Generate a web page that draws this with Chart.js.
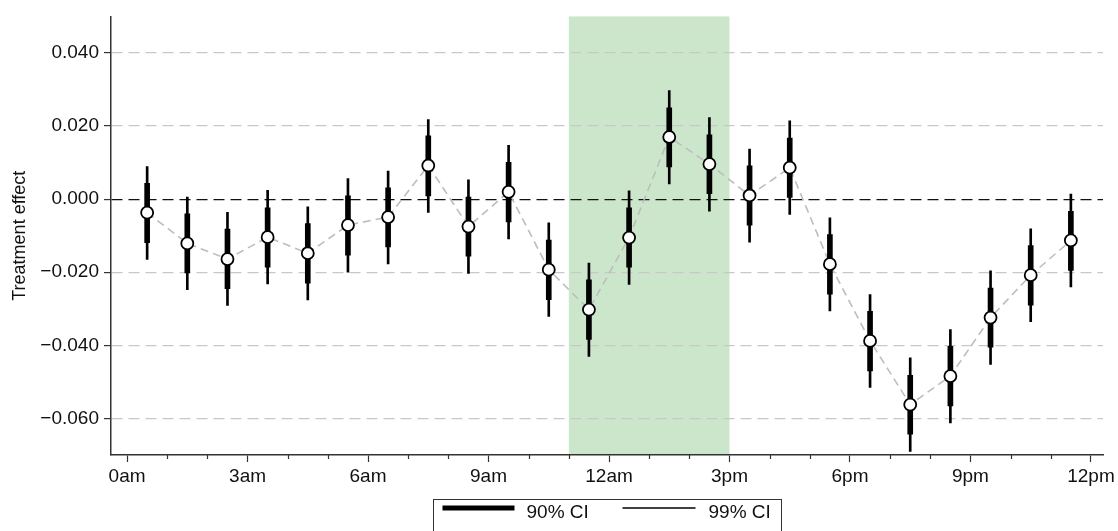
<!DOCTYPE html>
<html>
<head>
<meta charset="utf-8">
<title>Treatment effect by hour</title>
<script src="https://cdn.jsdelivr.net/npm/chart.js@4.4.1/dist/chart.umd.min.js"></script>
<style>
  html, body { margin: 0; padding: 0; background: #fff; }
  canvas { display: block; }
</style>
</head>
<body>
<canvas id="effectChart" width="1118" height="531"></canvas>
<script>
// hourly estimates, plotted at the middle of each hour
const hours = [0.5, 1.5, 2.5, 3.5, 4.5, 5.5, 6.5, 7.5, 8.5, 9.5, 10.5, 11.5,
               12.5, 13.5, 14.5, 15.5, 16.5, 17.5, 18.5, 19.5, 20.5, 21.5, 22.5, 23.5];

const estimate = [-0.0037, -0.0121, -0.0164, -0.0104, -0.0148, -0.0071, -0.0049, 0.0092,
                  -0.0075, 0.0020, -0.0193, -0.0302, -0.0105, 0.0170, 0.0096, 0.0010,
                  0.0086, -0.0178, -0.0388, -0.0562, -0.0484, -0.0324, -0.0208, -0.0113];

const lo90 = [-0.0119, -0.0202, -0.0245, -0.0186, -0.0230, -0.0153, -0.0131, 0.0009,
              -0.0156, -0.0062, -0.0275, -0.0384, -0.0186, 0.0088, 0.0015, -0.0071,
              0.0005, -0.0260, -0.0470, -0.0643, -0.0566, -0.0405, -0.0290, -0.0195];
const hi90 = [0.0043, -0.0040, -0.0082, -0.0024, -0.0067, 0.0009, 0.0031, 0.0173,
              0.0006, 0.0101, -0.0112, -0.0221, -0.0024, 0.0250, 0.0176, 0.0091,
              0.0167, -0.0097, -0.0307, -0.0482, -0.0403, -0.0243, -0.0127, -0.0033];

const lo99 = [-0.0165, -0.0248, -0.0291, -0.0232, -0.0276, -0.0200, -0.0177, -0.0036,
              -0.0203, -0.0109, -0.0321, -0.0430, -0.0233, 0.0042, -0.0033, -0.0118,
              -0.0042, -0.0306, -0.0515, -0.0690, -0.0612, -0.0452, -0.0335, -0.0240];
const hi99 = [0.0089, 0.0006, -0.0036, 0.0024, -0.0021, 0.0056, 0.0077, 0.0218,
              0.0053, 0.0147, -0.0065, -0.0175, 0.0023, 0.0297, 0.0223, 0.0137,
              0.0214, -0.0051, -0.0261, -0.0434, -0.0357, -0.0196, -0.0081, 0.0014];

const hourTicks = [0, 3, 6, 9, 12, 15, 18, 21, 24];
const hourLabels = ['0am', '3am', '6am', '9am', '12am', '3pm', '6pm', '9pm', '12pm'];
const effectTicks = [-0.06, -0.04, -0.02, 0, 0.02, 0.04];

// highlighted window (hours)
const shadeFrom = 11;
const shadeTo = 15;

const FONT = '"Liberation Sans", Arial, Helvetica, sans-serif';

const points = hours.map((h, i) => ({ x: h, y: estimate[i] }));
const band90 = hours.map((h, i) => ({ x: h, y: [lo90[i], hi90[i]] }));
const band99 = hours.map((h, i) => ({ x: h, y: [lo99[i], hi99[i]] }));

const fmtEffect = (v) => {
    if (Math.abs(v) < 1e-9) return '0.000';
    return (v < 0 ? '\u2212' : '') + Math.abs(v).toFixed(3);
};

// green window behind the grid
const shadePlugin = {
    id: 'shade',
    beforeDraw(chart) {
        const { ctx, chartArea, scales } = chart;
        const x0 = scales.x.getPixelForValue(shadeFrom);
        const x1 = scales.x.getPixelForValue(shadeTo);
        ctx.save();
        ctx.fillStyle = 'rgba(0, 128, 0, 0.2)';
        ctx.fillRect(x0, chartArea.top, x1 - x0, chartArea.bottom - chartArea.top);
        ctx.restore();
    }
};

// small ticks for every hour between the labelled ones
const minorTicksPlugin = {
    id: 'minorTicks',
    afterDraw(chart) {
        const { ctx, chartArea, scales } = chart;
        ctx.save();
        ctx.strokeStyle = '#333';
        ctx.lineWidth = 1.2;
        ctx.beginPath();
        for (let h = 0; h <= 24; h++) {
            if (h % 3 === 0) continue;
            const x = Math.round(scales.x.getPixelForValue(h)) + 0.5;
            ctx.moveTo(x, chartArea.bottom);
            ctx.lineTo(x, chartArea.bottom + 4);
        }
        ctx.stroke();
        ctx.restore();
    }
};

// boxed legend under the axis
const ciLegendPlugin = {
    id: 'ciLegend',
    afterDraw(chart) {
        const { ctx, chartArea } = chart;
        const cx = (chartArea.left + chartArea.right) / 2;
        const left = Math.round(cx - 174) + 0.5;
        const top = 499.5;
        const lineY = 508;
        ctx.save();
        ctx.strokeStyle = '#333';
        ctx.lineWidth = 1;
        ctx.strokeRect(left, top, 348, 60);

        ctx.strokeStyle = '#000';
        ctx.lineWidth = 5;
        ctx.beginPath();
        ctx.moveTo(left + 9, lineY);
        ctx.lineTo(left + 81, lineY);
        ctx.stroke();

        ctx.lineWidth = 1.5;
        ctx.beginPath();
        ctx.moveTo(left + 189, lineY);
        ctx.lineTo(left + 262, lineY);
        ctx.stroke();

        ctx.fillStyle = '#111';
        ctx.font = '19px ' + FONT;
        ctx.textBaseline = 'middle';
        ctx.fillText('90% CI', left + 93, lineY + 5);
        ctx.fillText('99% CI', left + 275, lineY + 5);
        ctx.restore();
    }
};

const ctx = document.getElementById('effectChart').getContext('2d');

new Chart(ctx, {
    type: 'bar',
    data: {
        datasets: [
            {
                type: 'line',
                data: points,
                borderColor: '#bdbdbd',
                borderWidth: 1.6,
                borderDash: [8, 5],
                pointRadius: 0,
                tension: 0,
                fill: false,
                order: 3
            },
            {
                type: 'bar',
                data: band99,
                backgroundColor: '#000',
                barThickness: 2,
                grouped: false,
                order: 2
            },
            {
                type: 'bar',
                data: band90,
                backgroundColor: '#000',
                barThickness: 5,
                grouped: false,
                order: 1
            },
            {
                type: 'line',
                data: points,
                showLine: false,
                pointRadius: 6,
                pointBackgroundColor: '#fff',
                pointBorderColor: '#000',
                pointBorderWidth: 1.8,
                order: 0
            }
        ]
    },
    options: {
        responsive: false,
        animation: false,
        devicePixelRatio: 1,
        layout: { padding: { left: 0, right: 15, top: 15, bottom: 36 } },
        plugins: {
            legend: { display: false },
            tooltip: { enabled: false }
        },
        scales: {
            x: {
                type: 'linear',
                min: -0.4,
                max: 24.3,
                offset: false,
                afterBuildTicks: (axis) => { axis.ticks = hourTicks.map(v => ({ value: v })); },
                afterFit: (axis) => { axis.height = 40; },
                ticks: {
                    autoSkip: false,
                    maxRotation: 0,
                    padding: 3,
                    color: '#111',
                    font: { family: FONT, size: 19 },
                    callback: (v, i) => hourLabels[i]
                },
                grid: {
                    offset: false,
                    drawOnChartArea: false,
                    tickLength: 7,
                    tickColor: '#333',
                    tickWidth: 1.2
                },
                border: { color: '#333', width: 1.5 }
            },
            y: {
                min: -0.07,
                max: 0.05,
                afterBuildTicks: (axis) => { axis.ticks = effectTicks.map(v => ({ value: v })); },
                afterFit: (axis) => { axis.width = 111; },
                ticks: {
                    padding: 5,
                    color: '#111',
                    font: { family: FONT, size: 19 },
                    callback: (v) => fmtEffect(v)
                },
                grid: {
                    color: (c) => (c.tick && Math.abs(c.tick.value) < 1e-9 ? '#111' : '#c8c8c8'),
                    lineWidth: 1.2,
                    tickLength: 7,
                    tickColor: '#333',
                    tickWidth: 1.2,
                    tickBorderDash: []
                },
                border: { color: '#333', width: 1.5, dash: [11, 6] },
                title: {
                    display: true,
                    text: 'Treatment effect',
                    color: '#111',
                    font: { family: FONT, size: 18 },
                    padding: { top: 9, bottom: 0 }
                }
            }
        }
    },
    plugins: [shadePlugin, minorTicksPlugin, ciLegendPlugin]
});
</script>
</body>
</html>
